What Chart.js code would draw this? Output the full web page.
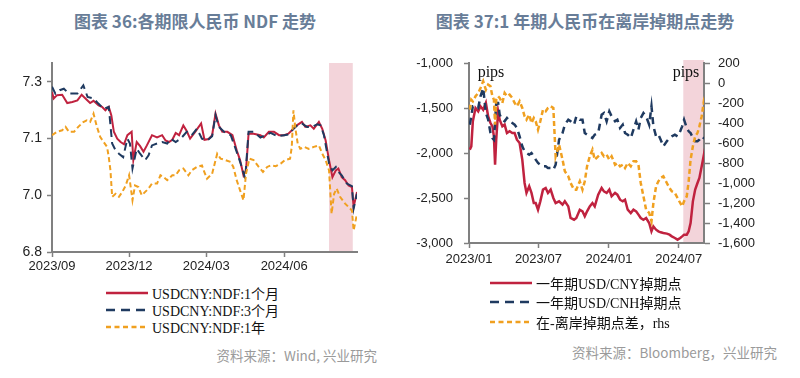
<!DOCTYPE html>
<html>
<head>
<meta charset="utf-8">
<script src="https://cdn.jsdelivr.net/npm/chart.js@4.4.1/dist/chart.umd.min.js"></script>
<style>
body { margin: 0; width: 800px; height: 378px; background: #fff; position: relative; overflow: hidden; }
.title { position: absolute; top: 8px; font: bold 17px "Noto Sans CJK SC", sans-serif; color: #687d98; text-align: center; white-space: nowrap; }
.box { position: absolute; top: 40px; width: 400px; height: 240px; }
.legend { position: absolute; font: 14px "Liberation Serif", "Noto Sans CJK SC", serif; color: #111; }
.legend div { display: flex; align-items: center; white-space: nowrap; }
.legend svg { margin-right: 4px; }
.source { position: absolute; font: 13.5px "Noto Sans CJK SC", sans-serif; color: #9a9a9a; white-space: nowrap; }
</style>
</head>
<body>
<div class="title" style="left:0;width:390px">图表 36:各期限人民币 NDF 走势</div>
<div class="title" style="left:400px;width:370px">图表 37:1 年期人民币在离岸掉期点走势</div>
<div class="box" style="left:0"><canvas id="ndfChart" width="400" height="240"></canvas></div>
<div class="box" style="left:400px"><canvas id="swapChart" width="400" height="240"></canvas></div>
<div class="legend" id="ndfLegend" style="left:106px;top:284px"></div>
<div class="legend" id="swapLegend" style="left:490px;top:273px"></div>
<div class="source" style="right:423px;top:345px">资料来源：Wind, 兴业研究</div>
<div class="source" style="right:23px;top:342px">资料来源：Bloomberg，兴业研究</div>
<script>
// ---- 图表36 data ----
const ndfNames = ["USDCNY:NDF:1个月", "USDCNY:NDF:3个月", "USDCNY:NDF:1年"];
const ndfTickDates = ["2023-09-01", "2023-12-01", "2024-03-01", "2024-06-01"];
const ndfTickLabels = ["2023/09", "2023/12", "2024/03", "2024/06"];
const ndfYTicks = [6.8, 6.95, 7.1, 7.25];
const ndfYLabels = ["6.8", "7.0", "7.1", "7.3"];
const ndfRange = ["2023-09-01", "2024-08-26"];
const ndfShade = ["2024-07-24", "2024-08-21"];

const ndf1M = [
  ["2023-09-01",7.223],["2023-09-03",7.206],["2023-09-07",7.215],["2023-09-13",7.216],["2023-09-19",7.194],
  ["2023-09-25",7.197],["2023-10-01",7.201],["2023-10-06",7.216],["2023-10-12",7.203],["2023-10-16",7.194],
  ["2023-10-20",7.200],["2023-10-26",7.188],["2023-10-30",7.184],["2023-11-03",7.175],["2023-11-07",7.184],
  ["2023-11-10",7.162],["2023-11-13",7.118],["2023-11-17",7.100],["2023-11-21",7.091],["2023-11-25",7.085],
  ["2023-11-29",7.109],["2023-12-04",7.118],["2023-12-06",7.043],["2023-12-10",7.091],["2023-12-14",7.080],
  ["2023-12-18",7.065],["2023-12-22",7.082],["2023-12-28",7.109],["2024-01-03",7.103],["2024-01-09",7.109],
  ["2024-01-13",7.095],["2024-01-17",7.091],["2024-01-21",7.097],["2024-01-25",7.115],["2024-01-29",7.109],
  ["2024-02-03",7.135],["2024-02-07",7.120],["2024-02-11",7.100],["2024-02-17",7.118],["2024-02-24",7.140],
  ["2024-02-28",7.097],["2024-03-04",7.099],["2024-03-08",7.109],["2024-03-12",7.166],["2024-03-16",7.135],
  ["2024-03-20",7.118],["2024-03-26",7.118],["2024-04-01",7.109],["2024-04-06",7.069],["2024-04-10",7.043],
  ["2024-04-14",7.003],["2024-04-17",7.016],["2024-04-20",7.113],["2024-04-26",7.113],["2024-05-04",7.109],
  ["2024-05-08",7.103],["2024-05-14",7.118],["2024-05-20",7.118],["2024-05-26",7.109],["2024-06-01",7.109],
  ["2024-06-06",7.113],["2024-06-12",7.126],["2024-06-16",7.135],["2024-06-22",7.144],["2024-06-26",7.131],
  ["2024-07-02",7.135],["2024-07-06",7.126],["2024-07-12",7.144],["2024-07-16",7.126],["2024-07-20",7.095],
  ["2024-07-24",7.043],["2024-07-28",6.998],["2024-08-01",7.016],["2024-08-04",7.021],["2024-08-08",6.998],
  ["2024-08-12",6.990],["2024-08-16",6.976],["2024-08-20",6.972],["2024-08-22",6.919],["2024-08-26",6.959]
];
const ndf3M = [
  ["2023-09-01",7.237],["2023-09-05",7.219],["2023-09-10",7.228],["2023-09-15",7.232],["2023-09-21",7.219],
  ["2023-10-01",7.219],["2023-10-08",7.241],["2023-10-13",7.210],["2023-10-20",7.206],["2023-10-26",7.192],
  ["2023-11-01",7.179],["2023-11-07",7.184],["2023-11-11",7.087],["2023-11-15",7.069],["2023-11-19",7.060],
  ["2023-11-24",7.051],["2023-11-29",7.100],["2023-12-02",7.087],["2023-12-05",7.021],["2023-12-10",7.073],
  ["2023-12-14",7.060],["2023-12-20",7.043],["2023-12-24",7.056],["2023-12-28",7.082],["2024-01-03",7.087],
  ["2024-01-09",7.091],["2024-01-15",7.087],["2024-01-19",7.100],["2024-01-25",7.091],["2024-01-31",7.100],
  ["2024-02-07",7.118],["2024-02-13",7.109],["2024-02-19",7.126],["2024-02-25",7.100],["2024-03-02",7.095],
  ["2024-03-08",7.106],["2024-03-12",7.162],["2024-03-16",7.131],["2024-03-22",7.118],["2024-03-30",7.109],
  ["2024-04-06",7.065],["2024-04-12",7.025],["2024-04-16",6.994],["2024-04-20",7.118],["2024-04-26",7.118],
  ["2024-05-04",7.103],["2024-05-10",7.109],["2024-05-16",7.115],["2024-05-24",7.106],["2024-06-01",7.109],
  ["2024-06-06",7.111],["2024-06-12",7.126],["2024-06-18",7.138],["2024-06-22",7.140],["2024-06-28",7.131],
  ["2024-07-04",7.131],["2024-07-10",7.138],["2024-07-14",7.135],["2024-07-18",7.109],["2024-07-24",7.034],
  ["2024-07-28",7.016],["2024-08-01",7.025],["2024-08-04",7.012],["2024-08-08",7.003],["2024-08-14",6.981],
  ["2024-08-20",6.974],["2024-08-22",6.915],["2024-08-26",6.954]
];
const ndf1Y = [
  ["2023-09-01",7.109],["2023-09-07",7.118],["2023-09-13",7.122],["2023-09-17",7.131],["2023-09-21",7.118],
  ["2023-09-27",7.118],["2023-10-02",7.131],["2023-10-08",7.144],["2023-10-12",7.148],["2023-10-16",7.144],
  ["2023-10-20",7.166],["2023-10-24",7.131],["2023-10-28",7.104],["2023-11-01",7.091],["2023-11-05",7.078],
  ["2023-11-07",7.051],["2023-11-09",7.016],["2023-11-11",6.946],["2023-11-15",6.954],["2023-11-19",6.946],
  ["2023-11-23",6.959],["2023-11-27",6.976],["2023-12-01",7.003],["2023-12-05",6.937],["2023-12-08",6.976],
  ["2023-12-12",6.972],["2023-12-16",6.950],["2023-12-20",6.959],["2023-12-24",6.968],["2023-12-28",6.981],
  ["2024-01-03",6.981],["2024-01-07",7.003],["2024-01-11",6.998],["2024-01-15",6.990],["2024-01-21",7.003],
  ["2024-01-25",7.003],["2024-01-29",7.016],["2024-02-03",7.021],["2024-02-09",7.003],["2024-02-13",7.016],
  ["2024-02-19",7.025],["2024-02-25",7.029],["2024-02-27",7.016],["2024-03-02",6.994],["2024-03-08",7.007],
  ["2024-03-14",7.060],["2024-03-18",7.047],["2024-03-24",7.043],["2024-03-30",7.038],["2024-04-02",7.025],
  ["2024-04-06",6.990],["2024-04-10",6.963],["2024-04-14",6.937],["2024-04-17",7.007],["2024-04-21",7.047],
  ["2024-04-26",7.043],["2024-05-02",7.025],["2024-05-07",7.012],["2024-05-12",7.025],["2024-05-16",7.029],
  ["2024-05-22",7.027],["2024-05-28",7.034],["2024-06-02",7.043],["2024-06-08",7.047],["2024-06-10",7.078],
  ["2024-06-12",7.175],["2024-06-14",7.131],["2024-06-17",7.087],["2024-06-20",7.073],["2024-06-25",7.078],
  ["2024-06-30",7.073],["2024-07-06",7.078],["2024-07-12",7.082],["2024-07-16",7.060],["2024-07-20",7.043],
  ["2024-07-24",7.016],["2024-07-27",6.901],["2024-07-30",6.954],["2024-08-02",6.968],["2024-08-06",6.946],
  ["2024-08-12",6.928],["2024-08-16",6.919],["2024-08-20",6.910],["2024-08-22",6.857],["2024-08-26",6.901]
];

// ---- 图表37 data ----
const swapNames = ["一年期USD/CNY掉期点", "一年期USD/CNH掉期点", "在-离岸掉期点差，rhs"];
const swapTickDates = ["2023-01-01", "2023-07-01", "2024-01-01", "2024-07-01"];
const swapTickLabels = ["2023/01", "2023/07", "2024/01", "2024/07"];
const swapRange = ["2023-01-01", "2024-09-05"];
const swapShade = ["2024-07-13", "2024-09-05"];
const swapDates = [
  "2023-01-03","2023-01-07","2023-01-11","2023-01-18","2023-01-25","2023-01-31","2023-02-07","2023-02-14","2023-02-20","2023-02-26",
  "2023-03-03","2023-03-07","2023-03-10","2023-03-13","2023-03-18","2023-03-22","2023-03-29","2023-04-04","2023-04-10","2023-04-17",
  "2023-04-24","2023-04-30","2023-05-06","2023-05-13","2023-05-20","2023-05-26","2023-05-31","2023-06-07","2023-06-13","2023-06-19",
  "2023-06-24","2023-06-30","2023-07-06","2023-07-13","2023-07-20","2023-07-26","2023-08-02","2023-08-09","2023-08-15","2023-08-24",
  "2023-09-02","2023-09-08","2023-09-17","2023-09-23","2023-10-02","2023-10-08","2023-10-17","2023-10-24","2023-10-30","2023-11-05",
  "2023-11-12","2023-11-19","2023-11-25","2023-12-04","2023-12-13","2023-12-19","2023-12-26","2024-01-02","2024-01-08","2024-01-17",
  "2024-01-23","2024-01-30","2024-02-06","2024-02-12","2024-02-19","2024-02-27","2024-03-05","2024-03-12","2024-03-18","2024-03-24",
  "2024-03-31","2024-04-07","2024-04-15","2024-04-21","2024-04-26","2024-05-03","2024-05-09","2024-05-15","2024-05-22","2024-05-31",
  "2024-06-07","2024-06-13","2024-06-21","2024-06-28","2024-07-05","2024-07-10","2024-07-15","2024-07-22","2024-07-27","2024-08-01",
  "2024-08-07","2024-08-13","2024-08-19","2024-08-24","2024-08-30","2024-09-04","2024-09-05"
];
const cnySwap = [
  -1963,-1926,-1648,-1500,-1537,-1481,-1519,-1444,-1593,-1667,
  -1704,-1815,-2130,-1852,-1537,-1630,-1704,-1685,-1778,-1759,
  -1778,-1778,-1852,-1889,-2074,-2333,-2444,-2370,-2444,-2556,
  -2556,-2630,-2537,-2407,-2389,-2444,-2407,-2500,-2556,-2537,
  -2574,-2537,-2593,-2722,-2741,-2722,-2630,-2648,-2704,-2648,
  -2593,-2556,-2593,-2463,-2389,-2426,-2444,-2407,-2481,-2444,
  -2463,-2519,-2537,-2519,-2630,-2667,-2630,-2648,-2685,-2722,
  -2741,-2722,-2778,-2870,-2815,-2852,-2870,-2881,-2889,-2896,
  -2907,-2926,-2944,-2963,-2944,-2926,-2907,-2907,-2870,-2778,
  -2537,-2407,-2333,-2278,-2148,-2037,-2074
];
const cnhSwap = [
  -1685,-1593,-1481,-1481,-1500,-1370,-1278,-1556,-1630,-1778,
  -1833,-1852,-1667,-1444,-1444,-1574,-1630,-1648,-1611,-1648,
  -1667,-1685,-1722,-1815,-1926,-1981,-2000,-2019,-2000,-2037,
  -2074,-2111,-2130,-2148,-2148,-2167,-2167,-2185,-2130,-1852,
  -1778,-1685,-1630,-1648,-1685,-1593,-1630,-1630,-1778,-1796,
  -1815,-1833,-1796,-1778,-1574,-1556,-1648,-1537,-1593,-1648,
  -1630,-1722,-1685,-1778,-1796,-1833,-1741,-1648,-1741,-1611,
  -1556,-1593,-1685,-1481,-1704,-1815,-1796,-1852,-1926,-1870,
  -1833,-1815,-1796,-1815,-1759,-1704,-1630,-1722,-1759,-1778,
  -1833,-1870,-1870,-1852,-1815,-1833,-1833
];
const swapSpread = [
  -267,-167,-183,-133,-100,-50,17,-67,-17,-33,
  -133,-167,-417,-167,-133,-150,-200,-100,-133,-117,
  -150,-200,-233,-183,-250,-333,-367,-317,-400,-350,
  -383,-467,-383,-267,-283,-250,-233,-250,-733,-617,
  -767,-883,-933,-1000,-1067,-1067,-983,-1067,-983,-833,
  -733,-667,-767,-733,-700,-733,-717,-767,-733,-817,
  -800,-833,-817,-850,-800,-833,-783,-783,-817,-1000,
  -1133,-1267,-1300,-1383,-1200,-1033,-983,-950,-933,-1000,
  -1050,-1083,-1100,-1150,-1200,-1233,-1183,-1133,-983,-767,
  -633,-533,-500,-433,-333,-200,-217
];

const RED = "#c0223f", NAVY = "#1f3a60", ORANGE = "#f0a020";
const AXIS = "#808080";
const day = s => Date.parse(s + "T00:00:00Z") / 864e5;

const shadePlugin = {
  id: "shade",
  beforeDraw(chart, args, opts) {
    const { ctx, chartArea, scales } = chart;
    const x0 = scales.x.getPixelForValue(day(opts.from));
    const x1 = scales.x.getPixelForValue(day(opts.to));
    ctx.save();
    ctx.fillStyle = "#f3d4da";
    ctx.fillRect(x0, chartArea.top - opts.above, x1 - x0, chartArea.bottom - chartArea.top + opts.above);
    ctx.restore();
  }
};

const pipsPlugin = {
  id: "pips",
  afterDatasetsDraw(chart) {
    const { ctx, chartArea } = chart;
    ctx.save();
    ctx.font = '16px "Liberation Serif", serif';
    ctx.fillStyle = "#111";
    ctx.textAlign = "center";
    ctx.textBaseline = "middle";
    ctx.fillText("pips", chartArea.left + 22, chartArea.top + 10);
    ctx.fillText("pips", chartArea.right - 18, chartArea.top + 10);
    ctx.restore();
  }
};

function xAxis(tickDates, tickLabels, range, height, pad) {
  const vals = tickDates.map(day);
  return {
    type: "linear",
    min: day(range[0]),
    max: day(range[1]),
    afterBuildTicks: a => { a.ticks = vals.map(v => ({ value: v })); },
    afterFit: a => { a.height = height; },
    border: { color: AXIS, width: 2 },
    grid: { drawOnChartArea: false, tickLength: 5, tickColor: AXIS, tickWidth: 1.5 },
    ticks: {
      maxRotation: 0, autoSkip: false, padding: pad, color: "#222",
      font: { family: "Liberation Sans", size: 13 },
      callback: v => tickLabels[vals.indexOf(v)]
    }
  };
}

function lineSet(label, pts, color, dash, extra) {
  return Object.assign({
    label: label,
    data: pts,
    borderColor: color,
    backgroundColor: color,
    borderWidth: 2,
    borderDash: dash,
    pointRadius: 0,
    tension: 0,
    fill: false
  }, extra);
}

const toPts = arr => arr.map(([d, v]) => ({ x: day(d), y: v }));

new Chart(document.getElementById("ndfChart"), {
  type: "line",
  data: {
    datasets: [
      lineSet(ndfNames[0], toPts(ndf1M), RED, [], { order: 3 }),
      lineSet(ndfNames[1], toPts(ndf3M), NAVY, [8, 5], { order: 2 }),
      lineSet(ndfNames[2], toPts(ndf1Y), ORANGE, [5, 3], { order: 1 })
    ]
  },
  options: {
    responsive: false,
    animation: false,
    layout: { padding: { top: 23, right: 43, left: 0, bottom: 0 } },
    plugins: { legend: { display: false }, tooltip: { enabled: false }, shade: { from: ndfShade[0], to: ndfShade[1], above: 0 } },
    scales: {
      x: xAxis(ndfTickDates, ndfTickLabels, ndfRange, 28, 2),
      y: {
        min: 6.8,
        max: 7.3,
        afterBuildTicks: a => { a.ticks = ndfYTicks.map(v => ({ value: v })); },
        afterFit: a => { a.width = 52; },
        border: { color: AXIS, width: 2 },
        grid: { drawOnChartArea: false, tickLength: 5, tickColor: AXIS, tickWidth: 1.5 },
        ticks: {
          padding: 5, color: "#222",
          font: { family: "Liberation Sans", size: 14 },
          callback: v => ndfYLabels[ndfYTicks.indexOf(v)]
        }
      }
    }
  },
  plugins: [shadePlugin]
});

const swapX = swapDates.map(day);
new Chart(document.getElementById("swapChart"), {
  type: "line",
  data: {
    datasets: [
      lineSet(swapNames[0], swapX.map((x, i) => ({ x: x, y: cnySwap[i] })), RED, [], { order: 3, yAxisID: "y", borderWidth: 2.5 }),
      lineSet(swapNames[1], swapX.map((x, i) => ({ x: x, y: cnhSwap[i] })), NAVY, [7, 5], { order: 2, yAxisID: "y", borderWidth: 2.5 }),
      lineSet(swapNames[2], swapX.map((x, i) => ({ x: x, y: swapSpread[i] })), ORANGE, [5, 3], { order: 1, yAxisID: "y2", borderWidth: 2.5 })
    ]
  },
  options: {
    responsive: false,
    animation: false,
    layout: { padding: { top: 23, right: 0, left: 0, bottom: 0 } },
    plugins: { legend: { display: false }, tooltip: { enabled: false }, shade: { from: swapShade[0], to: swapShade[1], above: 3 } },
    scales: {
      x: xAxis(swapTickDates, swapTickLabels, swapRange, 37, 4),
      y: {
        position: "left",
        min: -3000,
        max: -1000,
        afterFit: a => { a.width = 69; },
        border: { color: AXIS, width: 2 },
        grid: { drawOnChartArea: false, tickLength: 5, tickColor: AXIS, tickWidth: 1.5 },
        ticks: {
          stepSize: 500, padding: 11, color: "#222",
          font: { family: "Liberation Sans", size: 13 },
          callback: v => v.toLocaleString("en-US")
        }
      },
      y2: {
        position: "right",
        min: -1600,
        max: 200,
        afterFit: a => { a.width = 96; },
        border: { color: AXIS, width: 2 },
        grid: { drawOnChartArea: false, tickLength: 6, tickColor: AXIS, tickWidth: 1.5 },
        ticks: {
          stepSize: 200, padding: 8, color: "#222",
          font: { family: "Liberation Sans", size: 13 },
          callback: v => v.toLocaleString("en-US")
        }
      }
    }
  },
  plugins: [shadePlugin, pipsPlugin]
});

// html legends
function buildLegend(id, names, rowH) {
  const styles = [
    { color: RED, dash: "" },
    { color: NAVY, dash: "9 6" },
    { color: ORANGE, dash: "5 3.5" }
  ];
  const el = document.getElementById(id);
  names.forEach((n, i) => {
    const row = document.createElement("div");
    row.style.height = rowH + "px";
    row.innerHTML =
      '<svg width="42" height="4"><line x1="0" y1="2" x2="42" y2="2" stroke="' + styles[i].color +
      '" stroke-width="2.5" stroke-dasharray="' + styles[i].dash + '"/></svg><span>' + n + "</span>";
    el.appendChild(row);
  });
}
buildLegend("ndfLegend", ndfNames, 17);
buildLegend("swapLegend", swapNames, 19.5);
</script>
</body>
</html>
